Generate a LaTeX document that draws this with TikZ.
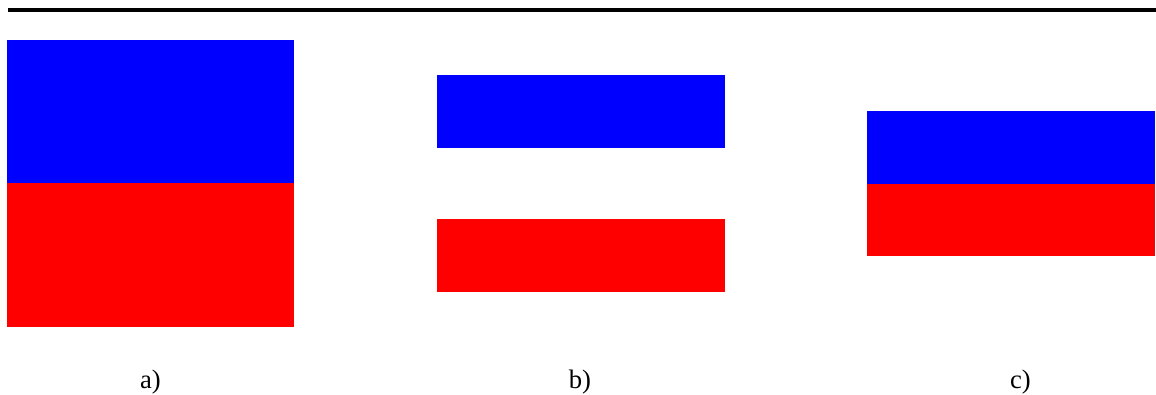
\documentclass[tikz,border=0pt]{standalone}
\usepackage{fontspec}
\setmainfont{Liberation Serif}
\begin{document}
\begin{tikzpicture}[x=0.75pt,y=-0.75pt,
  topbar/.style={line width=3pt,black},
  bluebox/.style={fill={rgb,255:red,0;green,0;blue,255}},
  redbox/.style={fill={rgb,255:red,255;green,0;blue,0}},
  caption/.style={font=\fontsize{20}{24}\selectfont,inner sep=0pt}]
\useasboundingbox (0,0) rectangle (1156,395);
\draw[topbar] (8,10) -- (1156,10);
% a)
\fill[bluebox] (7,40) rectangle (294,183.5);
\fill[redbox] (7,183.5) rectangle (294,327);
% b)
\fill[bluebox] (437,75.3) rectangle (725,148.3);
\fill[redbox] (437,219.3) rectangle (725,291.7);
% c)
\fill[bluebox] (867,111.3) rectangle (1155,184);
\fill[redbox] (867,184) rectangle (1155,255.7);
\node[caption] (la) at (150.5,382) {a)};
\node[caption] (lb) at (580,382) {b)};
\node[caption] (lc) at (1020.5,382) {c)};
\end{tikzpicture}
\end{document}
